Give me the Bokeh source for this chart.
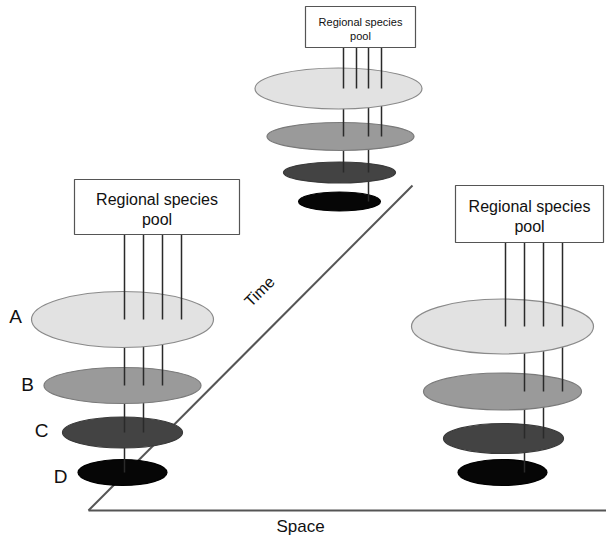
from bokeh.plotting import figure
from bokeh.models import Range1d
from bokeh.core.properties import value
from bokeh.embed import file_html
from bokeh.resources import INLINE

# ---- data ----
levels = ["A", "B", "C", "D"]
species_per_level = [4, 3, 2, 1]          # lines reaching each level
pool_label = ["Regional species", "pool"]
axis_labels = ["Time", "Space"]

# which of the 4 pool lines continue to each level, per group
left_keep = [[0, 1, 2, 3], [0, 1, 2], [0, 1], [0]]
top_keep = [[0, 1, 2, 3], [0, 2, 3], [0, 2], [2]]
right_keep = [[0, 1, 2, 3], [1, 2, 3], [1, 2], [1]]

# ---- layout (screen pixel coordinates) ----
fills = ["#e2e2e2", "#9a9a9a", "#434343", "#060606"]
edges = ["#8a8a8a", "#7a7a7a", "#3a3a3a", "#000000"]

groups = [
    dict(box=(74, 239, 179, 234), fs=16, line_x=[124, 143, 162, 181],
         cx=[122, 122, 122, 122], cy=[319, 385, 432, 472],
         w=[182, 157, 120, 89], h=[56, 36, 31, 26], keep=left_keep),
    dict(box=(305, 415, 6, 47), fs=11, line_x=[343, 356, 368, 381],
         cx=[338, 340, 339, 339], cy=[88, 136, 172, 201],
         w=[167, 147, 112, 82], h=[41, 28, 21, 19], keep=top_keep),
    dict(box=(455, 603, 185, 242), fs=16, line_x=[505, 524, 543, 562],
         cx=[502, 502, 503, 502], cy=[326, 391, 438, 472],
         w=[182, 158, 120, 89], h=[55, 37, 30, 26], keep=right_keep),
]

W, H = 606, 537
p = figure(width=W, height=H, output_backend="svg", toolbar_location=None,
           x_range=Range1d(0, W), y_range=Range1d(H, 0),
           x_axis_type=None, y_axis_type=None, min_border=0)
p.outline_line_color = None
p.grid.visible = False
p.background_fill_color = "white"

FONT = value("Liberation Sans")

# axes of the diagram
p.line([88, 412], [510, 185], line_color="#555555", line_width=2)
p.line([88, 606], [510, 510], line_color="#555555", line_width=2)
p.text([259], [291], text=[axis_labels[0]], angle=45, angle_units="deg",
       text_align="center", text_baseline="middle", text_font=FONT,
       text_font_size="16px", text_color="#111111")
p.text([300], [526], text=[axis_labels[1]], text_align="center",
       text_baseline="middle", text_font=FONT, text_font_size="17px",
       text_color="#111111")

for g in groups:
    x0, x1, y0, y1 = g["box"]
    # draw bottom-up so lines sit on top of the lower ellipse, under the upper one
    for i in range(len(levels) - 1, -1, -1):
        p.ellipse([g["cx"][i]], [g["cy"][i]], width=g["w"][i], height=g["h"][i],
                  fill_color=fills[i], line_color=edges[i], line_width=1.2)
        top = y1 if i == 0 else g["cy"][i - 1]
        xs = [g["line_x"][k] for k in g["keep"][i]]
        p.segment(x0=xs, y0=[top] * len(xs), x1=xs, y1=[g["cy"][i]] * len(xs),
                  line_color="#2a2a2a", line_width=1.5)
    p.quad(left=[x0], right=[x1], top=[y0], bottom=[y1], fill_color="white",
           line_color="#555555", line_width=1.2)
    bx = (x0 + x1) / 2
    bh = y1 - y0
    p.text([bx, bx], [y0 + bh * 0.37, y0 + bh * 0.72], text=pool_label,
           text_align="center", text_baseline="middle", text_font=FONT,
           text_font_size=f"{g['fs']}px", text_color="#111111")

# level labels
p.text([15, 27, 41, 60], [316, 384, 430, 476], text=levels, text_align="center",
       text_baseline="middle", text_font=FONT, text_font_size="19px",
       text_color="#111111")

open("out.html", "w").write(file_html(p, INLINE))
